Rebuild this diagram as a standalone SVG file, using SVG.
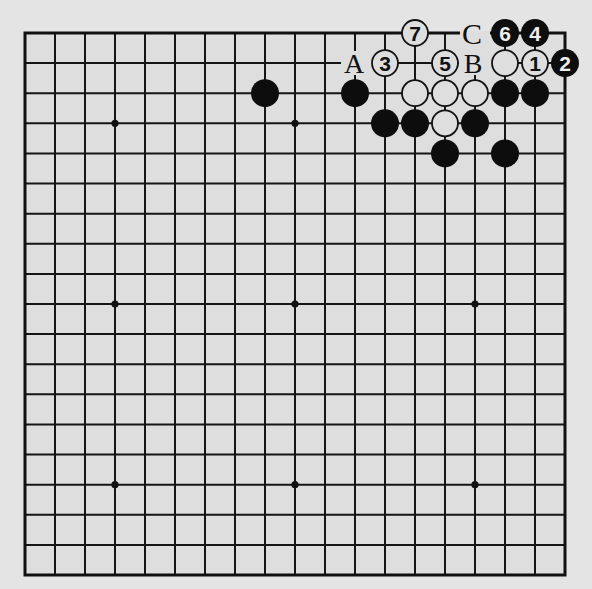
<svg xmlns="http://www.w3.org/2000/svg" width="592" height="589" viewBox="0 0 592 589">
<style>
.g{stroke:#151515;stroke-width:2;fill:none}
.b{stroke:#111;stroke-width:3;fill:none}
.bk{fill:#0d0d0d}
.wt{fill:#dedede;stroke:#111;stroke-width:1.8}
.hs{fill:#111}
.nw{font-family:"Liberation Sans",Arial,sans-serif;font-weight:bold;font-size:21px;fill:#111;text-anchor:middle}
.nb{font-family:"Liberation Sans",Arial,sans-serif;font-weight:bold;font-size:21px;fill:#eeeeee;text-anchor:middle}
.lb{font-family:"Liberation Serif","Times New Roman",serif;font-size:28px;fill:#111;text-anchor:middle}
.bg{fill:#dedede}
</style>
<rect width="592" height="589" fill="#e4e4e4"/>
<rect x="25" y="33" width="540" height="542" fill="#dedede"/>
<g id="connectors">
<path class="g" d="M55 33V575M85 33V575M115 33V575M145 33V575M175 33V575M205 33V575M235 33V575M265 33V575M295 33V575M325 33V575M355 33V575M385 33V575M415 33V575M445 33V575M475 33V575M505 33V575M535 33V575"/>
<path class="g" d="M25 63.1H565M25 93.2H565M25 123.3H565M25 153.4H565M25 183.6H565M25 213.7H565M25 243.8H565M25 273.9H565M25 304H565M25 334.1H565M25 364.2H565M25 394.3H565M25 424.4H565M25 454.6H565M25 484.7H565M25 514.8H565M25 544.9H565"/>
<rect class="b" x="25" y="33" width="540" height="542"/>
<g class="hs">
<circle cx="115" cy="123.3" r="3.6"/><circle cx="295" cy="123.3" r="3.6"/><circle cx="475" cy="123.3" r="3.6"/>
<circle cx="115" cy="304" r="3.6"/><circle cx="295" cy="304" r="3.6"/><circle cx="475" cy="304" r="3.6"/>
<circle cx="115" cy="484.7" r="3.6"/><circle cx="295" cy="484.7" r="3.6"/><circle cx="475" cy="484.7" r="3.6"/>
</g>
</g>
<g id="stone-b-8-2"><circle class="bk" cx="265" cy="93.2" r="14"/></g>
<g id="stone-b-11-2"><circle class="bk" cx="355" cy="93.2" r="14"/></g>
<g id="stone-b-16-2"><circle class="bk" cx="505" cy="93.2" r="14"/></g>
<g id="stone-b-17-2"><circle class="bk" cx="535" cy="93.2" r="14"/></g>
<g id="stone-b-12-3"><circle class="bk" cx="385" cy="123.3" r="14"/></g>
<g id="stone-b-13-3"><circle class="bk" cx="415" cy="123.3" r="14"/></g>
<g id="stone-b-15-3"><circle class="bk" cx="475" cy="123.3" r="14"/></g>
<g id="stone-b-14-4"><circle class="bk" cx="445" cy="153.4" r="14"/></g>
<g id="stone-b-16-4"><circle class="bk" cx="505" cy="153.4" r="14"/></g>
<g id="stone-w-13-2"><circle class="wt" cx="415" cy="93.2" r="13"/></g>
<g id="stone-w-14-2"><circle class="wt" cx="445" cy="93.2" r="13"/></g>
<g id="stone-w-15-2"><circle class="wt" cx="475" cy="93.2" r="13"/></g>
<g id="stone-w-14-3"><circle class="wt" cx="445" cy="123.3" r="13"/></g>
<g id="label-A"><rect class="bg" x="341" y="51" width="31" height="24"/><text class="lb" x="354" y="73">A</text></g>
<g id="label-B"><rect class="bg" x="459" y="46" width="33" height="29"/><text class="lb" x="473" y="73">B</text></g>
<g id="label-C"><rect class="bg" x="460" y="31" width="30" height="16"/><text class="lb" x="472" y="44" style="font-size:30px">C</text></g>
<g id="stone-w-16-1"><circle class="wt" cx="505" cy="63.1" r="13"/></g>
<g id="move-1"><circle class="wt" cx="535" cy="63.1" r="13"/><text class="nw" x="535" y="70.8">1</text></g>
<g id="move-2"><circle class="bk" cx="565" cy="63.1" r="14"/><text class="nb" x="565" y="70.8">2</text></g>
<g id="move-3"><circle class="wt" cx="385" cy="63.1" r="13"/><text class="nw" x="385" y="70.8">3</text></g>
<g id="move-4"><circle class="bk" cx="535" cy="33" r="14"/><text class="nb" x="535" y="40.7">4</text></g>
<g id="move-5"><circle class="wt" cx="445" cy="63.1" r="13"/><text class="nw" x="445" y="70.8">5</text></g>
<g id="move-6"><circle class="bk" cx="505" cy="33" r="14"/><text class="nb" x="505" y="40.7">6</text></g>
<g id="move-7"><circle class="wt" cx="415" cy="33" r="13"/><text class="nw" x="415" y="40.7">7</text></g>
</svg>
